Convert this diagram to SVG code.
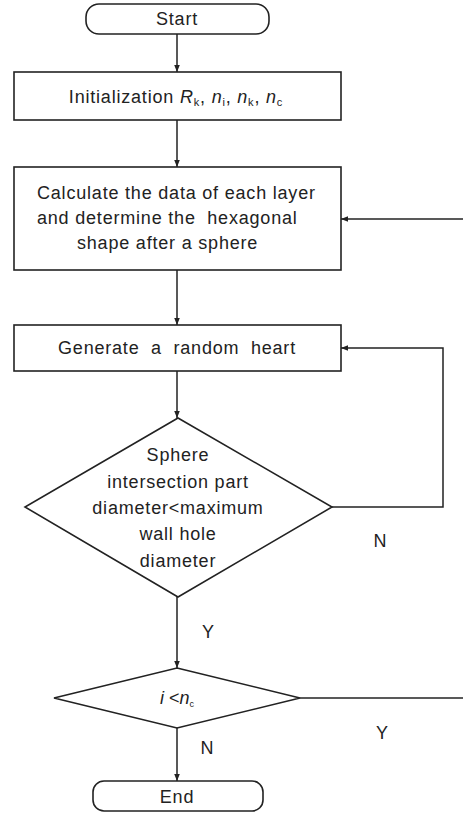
<svg xmlns="http://www.w3.org/2000/svg" width="466" height="814" viewBox="0 0 466 814">
<defs>
<style>
.box{fill:#fff;stroke:#222;stroke-width:1.6}
.ln{fill:none;stroke:#222;stroke-width:1.5}
.t{font-family:"Liberation Sans",Arial,sans-serif;font-size:18px;fill:#222;letter-spacing:0.8px;text-anchor:middle}
.ts{font-family:"Liberation Sans",Arial,sans-serif;font-size:18px;fill:#222;letter-spacing:0.8px;text-anchor:start}
.lab{font-family:"Liberation Sans",Arial,sans-serif;font-size:18px;fill:#222;text-anchor:middle}
.it{font-style:italic}
</style>
<marker id="ah" viewBox="0 0 10 10" refX="10" refY="5" markerWidth="7" markerHeight="7" markerUnits="userSpaceOnUse" orient="auto">
<path d="M0,1 L10,5 L0,9 Z" fill="#222"/>
</marker>
</defs>
<rect width="466" height="814" fill="#fff"/>
<g id="connectors">
<line class="ln" x1="177" y1="34" x2="177" y2="72" marker-end="url(#ah)"/>
<line class="ln" x1="177" y1="120" x2="177" y2="167" marker-end="url(#ah)"/>
<line class="ln" x1="177" y1="270" x2="177" y2="325" marker-end="url(#ah)"/>
<line class="ln" x1="177" y1="371" x2="177" y2="418" marker-end="url(#ah)"/>
<line class="ln" x1="177" y1="597" x2="177" y2="668" marker-end="url(#ah)"/>
<line class="ln" x1="177" y1="728" x2="177" y2="781" marker-end="url(#ah)"/>
<polyline class="ln" points="332,507 443,507 443,348 341,348" marker-end="url(#ah)"/>
<line class="ln" x1="300" y1="698" x2="463" y2="698"/>
<line class="ln" x1="463" y1="219" x2="341" y2="219" marker-end="url(#ah)"/>
<text class="lab" x="380" y="547">N</text>
<text class="lab" x="208" y="638">Y</text>
<text class="lab" x="382" y="739">Y</text>
<text class="lab" x="207" y="754">N</text>
</g>
<g id="start">
<rect class="box" x="86" y="4" width="183" height="30" rx="13"/>
<text class="t" x="177" y="25">Start</text>
</g>
<g id="init">
<rect class="box" x="14" y="72" width="327" height="48"/>
<text class="t" x="176" y="103" letter-spacing="1.2">Initialization <tspan class="it">R</tspan><tspan font-size="11" dy="3">k</tspan><tspan dy="-3">, </tspan><tspan class="it">n</tspan><tspan font-size="11" dy="3">i</tspan><tspan dy="-3">, </tspan><tspan class="it">n</tspan><tspan font-size="11" dy="3">k</tspan><tspan dy="-3">, </tspan><tspan class="it">n</tspan><tspan font-size="11" dy="3">c</tspan></text>
</g>
<g id="calc">
<rect class="box" x="14" y="167" width="327" height="103"/>
<text class="ts" x="37" y="199">Calculate the data of each layer</text>
<text class="ts" x="37" y="224" xml:space="preserve">and determine the  hexagonal</text>
<text class="ts" x="77" y="249">shape after a sphere</text>
</g>
<g id="generate">
<rect class="box" x="14" y="325" width="327" height="46"/>
<text class="t" x="177" y="354" xml:space="preserve">Generate  a  random  heart</text>
</g>
<g id="decision1">
<polygon class="box" points="178,418 332,507 178,597 25,507"/>
<text class="t" x="178" y="461">Sphere</text>
<text class="t" x="178" y="488">intersection part</text>
<text class="t" x="178" y="514">diameter&lt;maximum</text>
<text class="t" x="178" y="540">wall hole</text>
<text class="t" x="178" y="567">diameter</text>
</g>
<g id="decision2">
<polygon class="box" points="177,668 300,698 177,728 54,698"/>
<text class="lab" x="177" y="704" font-size="16"><tspan class="it">i</tspan> &lt;<tspan class="it">n</tspan><tspan font-size="9" dy="3">c</tspan></text>
</g>
<g id="end">
<rect class="box" x="93" y="781" width="170" height="30" rx="11"/>
<text class="t" x="177" y="803">End</text>
</g>
</svg>
